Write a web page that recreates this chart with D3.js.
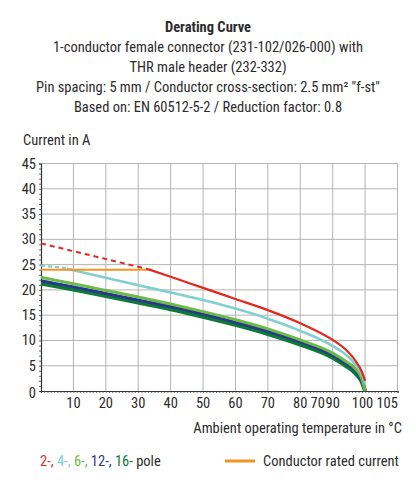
<!DOCTYPE html>
<html>
<head>
<meta charset="utf-8">
<script src="https://cdn.jsdelivr.net/npm/d3@7"></script>
<style>
  body { margin: 0; background: #fff; }
  svg { display: block; }
  text { font-family: "Liberation Sans Narrow", "Roboto Condensed", "DejaVu Sans Condensed", sans-serif; fill: #2b2b2b; }
</style>
</head>
<body>
<div id="chart"></div>
<script>
// title lines
const titleLines = [
  "Derating Curve",
  "1-conductor female connector (231-102/026-000) with",
  "THR male header (232-332)",
  "Pin spacing: 5 mm / Conductor cross-section: 2.5 mm² \"f-st\"",
  "Based on: EN 60512-5-2 / Reduction factor: 0.8"
];

// y ticks (current, A)
const yTicks = [0, 5, 10, 15, 20, 25, 30, 35, 40, 45];
// x tick labels [position, label] - the stray "70" is in the original
const xTickLabels = [[10, "10"], [20, "20"], [30, "30"], [40, "40"], [50, "50"], [60, "60"],
  [70, "70"], [80, "80"], [85.4, "70"], [90, "90"], [99.2, "100"], [106.8, "105"]];
const xGrid = [10, 20, 30, 40, 50, 60, 70, 80, 90, 100, 110];

// shared temperature points for the curves
const temps = [0, 10, 20, 30, 40, 50, 60, 70, 80, 90, 94, 97, 99, 100];

// 2-pole
const red_dashedT = [0, 33];
const red_dashedI = [29.2, 24.1];
const red_solidT = [33, 40, 50, 60, 70, 80, 90, 94, 97, 99, 100];
const red_solidI = [24.1, 22.6, 20.4, 18.2, 16.0, 13.4, 10.1, 8.2, 6.0, 3.8, 2.0];

// 4-pole
const cyan_dashedT = [0, 8];
const cyan_dashedI = [24.8, 24.3];
const cyan_solidT = [8, 10, 20, 30, 40, 50, 60, 70, 80, 90, 94, 97, 99, 100];
const cyan_solidI = [24.2, 23.9, 22.4, 20.9, 19.5, 18.0, 16.3, 14.3, 11.9, 8.9, 7.2, 5.3, 3.3, 1.5];

// 6-, 12-, 16-pole
const green6 = [22.5, 21.2, 19.9, 18.6, 17.2, 15.7, 14.1, 12.3, 10.1, 7.5, 5.9, 4.4, 2.4, 0];
const blue12 = [21.8, 20.6, 19.3, 18.0, 16.7, 15.2, 13.6, 11.8, 9.7, 7.1, 5.5, 4.0, 2.0, 0];
const green16 = [21.3, 20.1, 18.8, 17.5, 16.2, 14.7, 13.1, 11.3, 9.2, 6.6, 5.0, 3.5, 1.8, 0];

// conductor rated current
const ratedT = [0, 33];
const ratedI = [24.0, 24.0];

const W = 416, H = 487;
const x = d3.scaleLinear().domain([0, 110]).range([41, 397.5]);
const y = d3.scaleLinear().domain([0, 45]).range([391, 163.5]);

const svg = d3.select("#chart").append("svg")
  .attr("width", W).attr("height", H);

// titles
svg.append("g").selectAll("text")
  .data(titleLines)
  .enter().append("text")
    .attr("x", 208)
    .attr("y", (d, i) => 32 + i * 20)
    .attr("text-anchor", "middle")
    .attr("font-size", 14.5)
    .attr("font-weight", (d, i) => i === 0 ? "bold" : null)
    .text(d => d);

svg.append("text")
  .attr("x", 23).attr("y", 145)
  .attr("font-size", 14.5)
  .text("Current in A");

// grid
const grid = svg.append("g").attr("stroke", "#b4b4b4").attr("stroke-width", 1);
grid.selectAll(".gx").data(xGrid).enter().append("line")
  .attr("x1", d => x(d)).attr("x2", d => x(d))
  .attr("y1", y(45)).attr("y2", y(0));
grid.selectAll(".gy").data(yTicks.slice(1)).enter().append("line")
  .attr("x1", x(0)).attr("x2", x(110))
  .attr("y1", d => y(d)).attr("y2", d => y(d));

// axes with minor ticks
const xAxis = svg.append("g").attr("transform", `translate(0,${y(0)})`)
  .call(d3.axisBottom(x).ticks(110).tickSize(2).tickFormat(""));
const yAxis = svg.append("g").attr("transform", `translate(${x(0)},0)`)
  .call(d3.axisLeft(y).ticks(45).tickSize(2).tickFormat(""));
[xAxis, yAxis].forEach(a => {
  a.select(".domain").attr("stroke", "#333").attr("stroke-width", 1.2);
  a.selectAll(".tick line").attr("stroke", "#444").attr("stroke-width", 0.8);
});

// tick labels
svg.append("g").selectAll("text")
  .data(yTicks).enter().append("text")
    .attr("x", 36).attr("y", d => y(d) + (d === 0 ? 7 : 5))
    .attr("text-anchor", "end")
    .attr("font-size", 14.5)
    .text(d => d);
svg.append("g").selectAll("text")
  .data(xTickLabels).enter().append("text")
    .attr("x", d => x(d[0])).attr("y", 408)
    .attr("text-anchor", "middle")
    .attr("font-size", 14.5)
    .text(d => d[1]);

svg.append("text")
  .attr("x", 402).attr("y", 433)
  .attr("text-anchor", "end")
  .attr("font-size", 14.5)
  .text("Ambient operating temperature in °C");

// curves
const line = d3.line().x(d => x(d[0])).y(d => y(d[1])).curve(d3.curveMonotoneX);
const zip = (ts, vs) => ts.map((t, i) => [t, vs[i]]);

const series = [
  { pts: zip(temps, green16), color: "#0d7a3a", width: 4.2 },
  { pts: zip(temps, blue12), color: "#2b3690", width: 3 },
  { pts: zip(temps, green6), color: "#6cbb46", width: 3 },
  { pts: zip(cyan_dashedT, cyan_dashedI), color: "#82cfd0", width: 2.2, dash: "4,3" },
  { pts: zip(cyan_solidT, cyan_solidI), color: "#82cfd0", width: 2.6 },
  { pts: zip(ratedT, ratedI), color: "#f3951f", width: 2 },
  { pts: zip(red_dashedT, red_dashedI), color: "#e3281d", width: 2, dash: "5,4" },
  { pts: zip(red_solidT, red_solidI), color: "#e3281d", width: 2.2 }
];

svg.append("g").selectAll("path")
  .data(series).enter().append("path")
    .attr("d", d => line(d.pts))
    .attr("fill", "none")
    .attr("stroke", d => d.color)
    .attr("stroke-width", d => d.width)
    .attr("stroke-dasharray", d => d.dash || null);

// legend
const legendParts = [
  ["2-, ", "#e3281d"], ["4-, ", "#82cfd0"], ["6-, ", "#6cbb46"],
  ["12-, ", "#2b3690"], ["16-", "#0d7a3a"], [" pole", "#2b2b2b"]
];
svg.append("text")
  .attr("x", 40).attr("y", 466)
  .attr("font-size", 14.5)
  .attr("xml:space", "preserve")
  .selectAll("tspan").data(legendParts).enter().append("tspan")
    .style("fill", d => d[1])
    .text(d => d[0]);

svg.append("line")
  .attr("x1", 225).attr("x2", 255)
  .attr("y1", 461).attr("y2", 461)
  .attr("stroke", "#f3951f").attr("stroke-width", 3);
svg.append("text")
  .attr("x", 263).attr("y", 466)
  .attr("font-size", 14.5)
  .text("Conductor rated current");
</script>
</body>
</html>
